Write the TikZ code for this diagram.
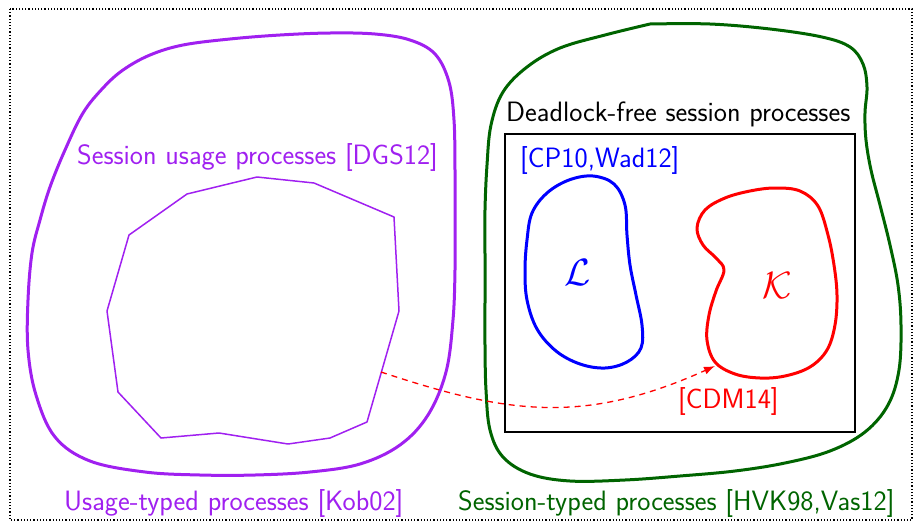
\documentclass[tikz,border=0pt]{standalone}
\usepackage{fontspec}
\usetikzlibrary{arrows.meta}
\definecolor{usage}{RGB}{160,32,240}
\definecolor{session}{RGB}{0,100,0}

\begin{document}
\begin{tikzpicture}[
  x=1pt, y=-1pt,
  every node/.style={font=\sffamily\fontsize{28}{32}\selectfont,inner sep=0pt,anchor=base west},
  blob/.style={line width=3pt,line join=round},
  letter/.style={font=\normalsize,scale=3.8,anchor=center}
]
  \useasboundingbox (0,0) rectangle (914,523);
  \draw[dotted,line width=1.2pt] (10,9) rectangle (912,520);

  % usage-typed processes
  \draw[usage,blob] plot[smooth cycle,tension=0.6] coordinates {(183,45) (230,39) (280,35) (330,33)
    (375,34) (410,40) (435,54) (449,82) (454,120) (455,170) (455,220) (455,270) (453,320)
    (446,372) (428,415) (400,445) (360,464) (310,472) (255,475) (200,475) (145,472) (90,461)
    (55,437) (36,395) (28,350) (28,300) (32,253) (40,220) (50,187) (65,150) (83,113) (103,88)
    (123,70) (150,55)};
  \draw[usage,line width=1.5pt,line join=round] (257,177) -- (314,183) -- (394,217) -- (399,311)
    -- (367,422) -- (330,438) -- (288,444) -- (219,433) -- (161,438) -- (118,392) -- (107,311)
    -- (129,235) -- (187,194) -- cycle;
  \coordinate (sup-exit) at (381,372);

  % session-typed processes
  \draw[session,blob] plot[smooth,tension=0.6] coordinates {(650,24) (710,24) (770,29) (822,37)
    (850,47) (863,64) (867,87) (865,113) (866,140) (871,170) (880,205) (890,245) (898,285)
    (901,325) (899,370) (888,405) (865,432) (830,451) (785,463) (735,471) (680,476) (625,480)
    (570,481) (530,474) (503,457) (490,430) (486,390) (485,345) (485,300) (485,255) (485,210)
    (487,165) (491,125) (503,92) (527,67) (560,48) (605,35) (650,24)};
  \draw[line width=1.5pt] (505,134) rectangle (855,432);
  \draw[blue,blob] plot[smooth cycle,tension=0.6] coordinates {(593,176) (614,184) (625,205)
    (627,235) (630,265) (636,295) (642,325) (641,348) (627,362) (605,368) (580,364) (556,351)
    (537,329) (527,300) (525,270) (527,240) (532,213) (547,193) (569,180)};
  \draw[red,blob] plot[smooth cycle,tension=0.6] coordinates {(697,228) (705,210) (725,198)
    (750,191) (775,188) (800,191) (818,206) (828,235) (834,265) (837,295) (835,325) (827,350)
    (810,367) (785,376) (760,378) (735,374) (715,362) (707,340) (709,315) (716,291) (724,270)
    (716,258) (703,245)};
  \coordinate (k-entry) at (715,366);

  \node[usage] (sup) at (77,164) {Session usage processes [DGS12]};
  \node (dfree) at (506,121) {Deadlock-free session processes};
  \node[blue] (cpw) at (520,167) {[CP10,Wad12]};
  \node[red] (cdm) at (678,408) {[CDM14]};
  \node[letter,blue] (L) at (578,273) {$\mathcal{L}$};
  \node[letter,red] (K) at (777,286) {$\mathcal{K}$};
  \node[usage] (kob) at (64,510) {Usage-typed processes [Kob02]};
  \node[session] (hvk) at (458,510) {Session-typed processes [HVK98,Vas12]};

  \draw[red,dash pattern=on 6pt off 5pt,line width=1.3pt,-{Latex[length=11pt,width=8pt]}]
    (sup-exit) .. controls (505,413) and (582,426) .. (k-entry);
\end{tikzpicture}
\end{document}
